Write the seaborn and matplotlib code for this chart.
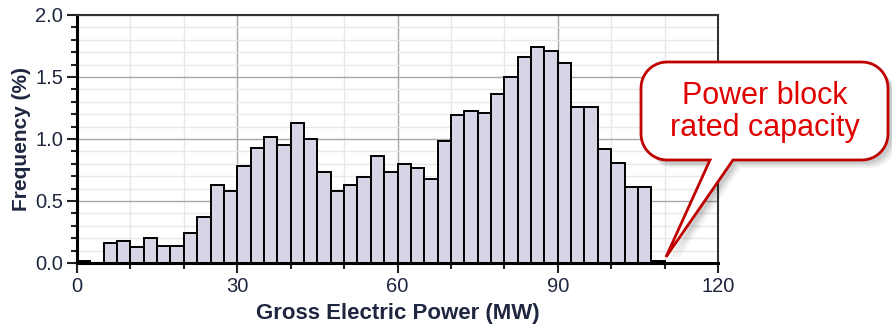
import numpy as np
import pandas as pd
import seaborn as sns
import matplotlib
matplotlib.use('Agg')
import matplotlib.pyplot as plt
from matplotlib.path import Path
from matplotlib.patches import PathPatch

# Histogram of gross electric power, 2.5 MW bins from 0 to 110
bin_width = 2.5
bin_range = (0, 110)
freq_pct = [0.015, 0.0, 0.16, 0.18, 0.13, 0.20, 0.14, 0.14, 0.24, 0.37,
            0.63, 0.58, 0.78, 0.93, 1.02, 0.95, 1.13, 1.00, 0.73, 0.58,
            0.63, 0.695, 0.86, 0.73, 0.80, 0.77, 0.68, 0.985, 1.195, 1.225,
            1.21, 1.36, 1.50, 1.66, 1.74, 1.71, 1.615, 1.26, 1.26, 0.92,
            0.805, 0.61, 0.61, 0.015]
bin_centers = bin_range[0] + bin_width * (np.arange(len(freq_pct)) + 0.5)

x_label = 'Gross Electric Power (MW)'
y_label = 'Frequency (%)'
callout_text = 'Power block\nrated capacity'

df = pd.DataFrame({'power': bin_centers, 'freq': freq_pct})

W, H = 892, 327
sns.set_style('white')
plt.rcParams['font.family'] = ['Liberation Sans', 'DejaVu Sans']

fig = plt.figure(figsize=(W / 100, H / 100), dpi=100)
ax = fig.add_axes([77 / W, 1 - 263 / H, (718 - 77) / W, (263 - 15) / H])

sns.histplot(data=df, x='power', weights='freq', binwidth=bin_width,
             binrange=bin_range, ax=ax, color='#d5d5e5', edgecolor='black',
             linewidth=1.4, alpha=1)

ax.set_xlim(0, 120)
ax.set_ylim(0, 2.0)
ax.set_xticks([0, 30, 60, 90, 120])
ax.set_xticks(np.arange(0, 121, 10), minor=True)
ax.set_yticks([0.0, 0.5, 1.0, 1.5, 2.0])
ax.set_yticks(np.arange(0, 2.01, 0.1), minor=True)
ax.yaxis.set_major_formatter(matplotlib.ticker.FormatStrFormatter('%.1f'))

ax.set_axisbelow(True)
ax.grid(which='major', color='#a8a8a8', linewidth=1.0)
ax.grid(which='minor', color='#e8e8e8', linewidth=1.0)

ax.tick_params(which='major', direction='out', length=7, width=1.5,
               color='#222222', labelsize=14.5, labelcolor='#1e2640', pad=3,
               left=True, bottom=True)
ax.tick_params(which='minor', direction='out', length=4, width=1.5,
               color='#222222', left=True, bottom=True)

for side in ['left', 'bottom']:
    ax.spines[side].set_linewidth(2.2)
    ax.spines[side].set_color('black')
for side in ['top', 'right']:
    ax.spines[side].set_linewidth(1.5)
    ax.spines[side].set_color('#333333')

ax.set_xlabel(x_label, fontsize=16, fontweight='bold', color='#1e2640', labelpad=5)
ax.set_ylabel(y_label, fontsize=15, fontweight='bold', color='#1e2640', labelpad=3)


# Callout bubble, built in pixel space (y down) then mapped to figure coords
def callout_path(x0, y0, x1, y1, r, tail_l, tail_r, tip):
    pts = []
    def arc(cx, cy, a0, a1):
        t = np.linspace(np.radians(a0), np.radians(a1), 12)
        return list(zip(cx + r * np.cos(t), cy + r * np.sin(t)))
    pts.append((x0 + r, y0))
    pts.append((x1 - r, y0))
    pts += arc(x1 - r, y0 + r, -90, 0)
    pts.append((x1, y1 - r))
    pts += arc(x1 - r, y1 - r, 0, 90)
    pts.append((tail_r, y1))
    pts.append(tip)
    pts.append((tail_l, y1))
    pts.append((x0 + r, y1))
    pts += arc(x0 + r, y1 - r, 90, 180)
    pts.append((x0, y0 + r))
    pts += arc(x0 + r, y0 + r, 180, 270)
    pts.append(pts[0])
    return pts


bubble = callout_path(641, 62, 888, 160, 26, 710, 733, (666, 257))


def to_fig(pts, dx=0, dy=0):
    v = np.array([((px + dx) / W, 1 - (py + dy) / H) for px, py in pts])
    codes = [Path.MOVETO] + [Path.LINETO] * (len(v) - 2) + [Path.CLOSEPOLY]
    return Path(v, codes)


for k, a in [(8, 0.05), (6, 0.07), (4, 0.09)]:
    fig.add_artist(PathPatch(to_fig(bubble, k, k), transform=fig.transFigure,
                             facecolor='black', edgecolor='none', alpha=a))
fig.add_artist(PathPatch(to_fig(bubble), transform=fig.transFigure,
                         facecolor='white', edgecolor='#c00000', linewidth=2.0))
fig.text(765 / W, 1 - 112 / H, callout_text, ha='center', va='center',
         fontsize=22, color='#e00000', linespacing=1.1)

fig.savefig('out.png', dpi=100)
